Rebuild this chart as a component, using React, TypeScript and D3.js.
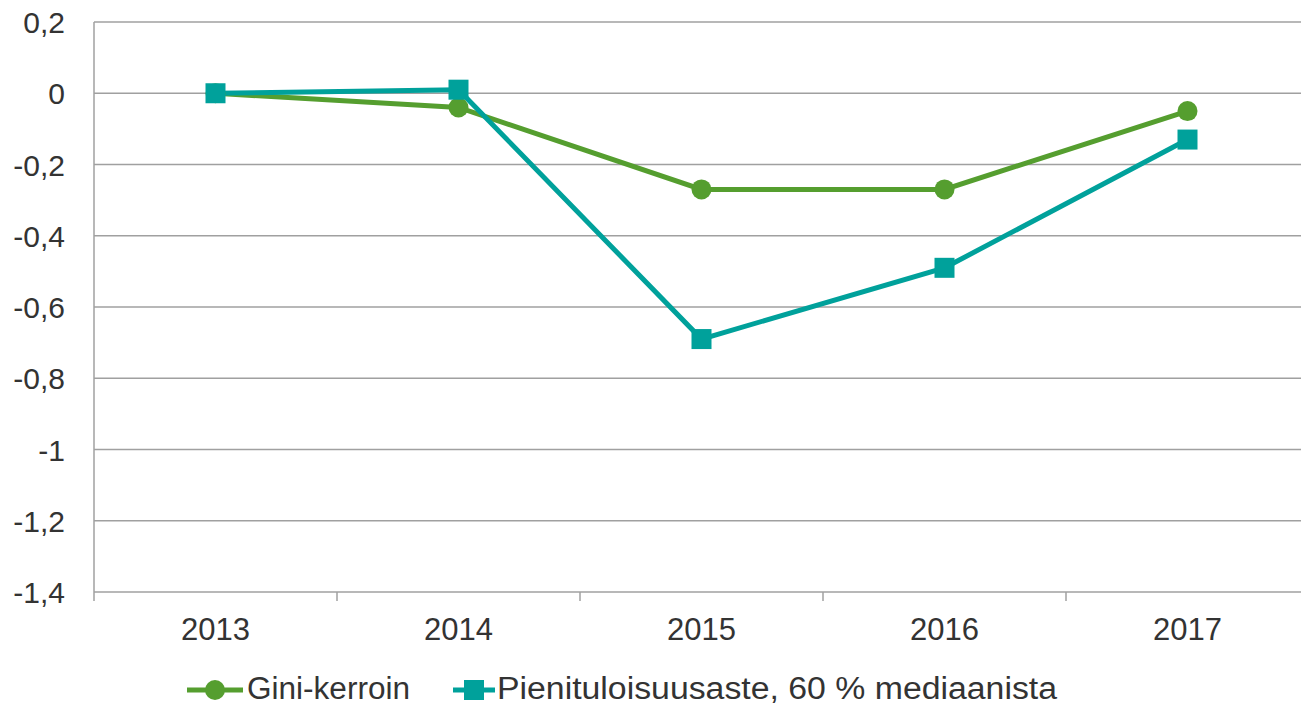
import React from "react";
import * as d3 from "d3";

const years = ["2013", "2014", "2015", "2016", "2017"];
const gini = [0, -0.04, -0.27, -0.27, -0.05];
const pienituloisuus = [0, 0.01, -0.69, -0.49, -0.13];
const yTicks = [0.2, 0, -0.2, -0.4, -0.6, -0.8, -1, -1.2, -1.4];

const GREEN = "#559e2f";
const TEAL = "#00a19b";
const FONT = "'Liberation Sans', Arial, sans-serif";

const left = 94;
const top = 22;
const bottom = 592;
const bandW = 243;

export default function App() {
  const xScale = d3
    .scaleBand()
    .domain(years)
    .range([left, left + bandW * years.length]);
  const yScale = d3.scaleLinear().domain([-1.4, 0.2]).range([bottom, top]);
  const cx = (y: string) => (xScale(y) as number) + xScale.bandwidth() / 2;

  const line = d3
    .line<number>()
    .x((_, i) => cx(years[i]))
    .y((d) => yScale(d));

  const fmt = (v: number) => (Math.abs(v) < 1e-9 ? "0" : String(+v.toFixed(1)).replace(".", ","));

  return (
    <svg
      width={1301}
      height={705}
      style={{ position: "absolute", left: 0, top: 0 }}
      fontFamily={FONT}
    >
      {yTicks.map((t) => (
        <g key={t}>
          <line
            x1={left}
            x2={1301}
            y1={yScale(t)}
            y2={yScale(t)}
            stroke="#a0a0a0"
            strokeWidth={1.5}
          />
          <text
            x={65}
            y={yScale(t) + 11}
            textAnchor="end"
            fontSize={30}
            fill="#333"
          >
            {fmt(t)}
          </text>
        </g>
      ))}
      <line x1={left} x2={left} y1={top} y2={bottom + 9} stroke="#a0a0a0" strokeWidth={1.5} />
      {years.map((y) => (
        <g key={y}>
          <line
            x1={(xScale(y) as number) + bandW}
            x2={(xScale(y) as number) + bandW}
            y1={bottom}
            y2={bottom + 9}
            stroke="#a0a0a0"
            strokeWidth={1.5}
          />
          <text x={cx(y)} y={640} textAnchor="middle" fontSize={31} fill="#333">
            {y}
          </text>
        </g>
      ))}

      <path d={line(gini) ?? ""} fill="none" stroke={GREEN} strokeWidth={5} />
      <path d={line(pienituloisuus) ?? ""} fill="none" stroke={TEAL} strokeWidth={5} />
      {gini.map((v, i) => (
        <circle key={i} cx={cx(years[i])} cy={yScale(v)} r={10} fill={GREEN} />
      ))}
      {pienituloisuus.map((v, i) => (
        <rect
          key={i}
          x={cx(years[i]) - 10}
          y={yScale(v) - 10}
          width={20}
          height={20}
          fill={TEAL}
        />
      ))}

      <g>
        <line x1={187} x2={243} y1={690} y2={690} stroke={GREEN} strokeWidth={5} />
        <circle cx={215} cy={690} r={10} fill={GREEN} />
        <text x={247} y={699} fontSize={31} fill="#333" textLength={163} lengthAdjust="spacingAndGlyphs">
          Gini-kerroin
        </text>
        <line x1={453} x2={495} y1={690} y2={690} stroke={TEAL} strokeWidth={5} />
        <rect x={464} y={680} width={20} height={20} fill={TEAL} />
        <text x={497} y={699} fontSize={31} fill="#333" textLength={560} lengthAdjust="spacingAndGlyphs">
          Pienituloisuusaste, 60 % mediaanista
        </text>
      </g>
    </svg>
  );
}
